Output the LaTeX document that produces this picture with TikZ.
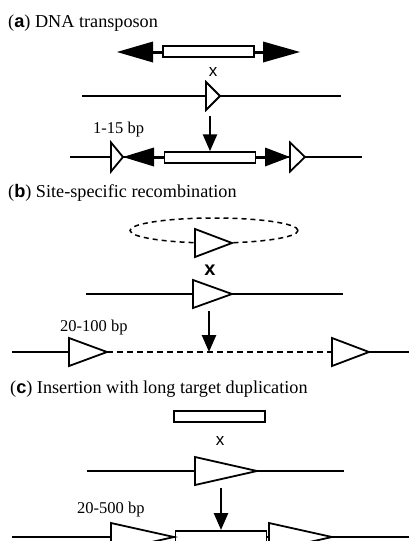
\documentclass[tikz,border=0pt]{standalone}
\usepackage{fontspec}
\setmainfont{Liberation Serif}
\newfontfamily\sansf{Liberation Sans}
\usetikzlibrary{arrows.meta}
\begin{document}
\begin{tikzpicture}[x=1pt,y=-1pt,
  dna/.style={line width=1.6pt},
  dnadash/.style={line width=1.6pt, dash pattern=on 6pt off 4pt},
  site/.style={draw, line width=1.8pt, fill=white, line join=miter},
  tebox/.style={draw, line width=1.5pt, fill=white, inner sep=0pt, minimum width=91pt, minimum height=11pt},
  blackhead/.style={fill=black},
  linker/.style={line width=3pt},
  down/.style={line width=2.6pt, -{Triangle[length=17pt,width=14pt]}},
  title/.style={anchor=base west, font=\fontsize{18.2}{21}\selectfont, inner sep=0pt},
  bp/.style={anchor=base west, font=\fontsize{16.5}{19}\selectfont, inner sep=0pt},
  cross/.style={font=\sansf\fontsize{17}{19}\selectfont, inner sep=0pt},
]
\useasboundingbox (0,0) rectangle (409,541);
\clip (0,0) rectangle (409,541);

% ---------------- (a) ----------------
\node[title] (ta) at (8,27) {(\textbf{\sansf a}) DNA transposon};
% top transposon
\draw[linker] (153,52) -- (164,52);
\draw[linker] (253,52) -- (263,52);
\node[tebox] (a1box) at (208.5,51.5) {};
\fill[blackhead] (117,52) -- (153,41.5) -- (153,62.5) -- cycle;
\fill[blackhead] (300,52) -- (263,41.5) -- (263,62.5) -- cycle;
\node[cross] (ax) at (213,72) {x};
% target
\coordinate (a2L) at (82,96);
\coordinate (a2R) at (341,96);
\draw[dna] (a2L) -- (a2R);
\filldraw[site] (206,82) -- (220,96) -- (206,110) -- cycle;
\coordinate (a2arrow) at (210,116);
% product
\coordinate (a3L) at (70,157);
\coordinate (a3R) at (362,157);
\draw[dna] (a3L) -- (a3R);
\draw[linker] (153,157) -- (165,157);
\draw[linker] (254,157) -- (266,157);
\node[tebox] (a3box) at (210,157.5) {};
\fill[blackhead] (123,157) -- (154,147.5) -- (154,166.5) -- cycle;
\fill[blackhead] (290,157) -- (265,147.5) -- (265,166.5) -- cycle;
\filldraw[site] (111,142.5) -- (123,157) -- (111,171.5) -- cycle;
\filldraw[site] (290,142.5) -- (305,157) -- (290,171.5) -- cycle;
\draw[down] (a2arrow) -- (a3box.north);
\node[bp] (abp) at (93,133) {1-15 bp};

% ---------------- (b) ----------------
\node[title] (tb) at (8,197) {(\textbf{\sansf b}) Site-specific recombination};
\draw[line width=1.5pt, dash pattern=on 5pt off 4pt] (214,230.5) ellipse [x radius=84pt, y radius=12.5pt];
\filldraw[site] (195,229) -- (232,243) -- (195,257) -- cycle;
\node[cross, font=\sansf\bfseries\fontsize{20}{22}\selectfont] (bx) at (210,270) {x};
\coordinate (b2L) at (86,294);
\coordinate (b2R) at (343,294);
\draw[dna] (b2L) -- (b2R);
\filldraw[site] (193,280) -- (232,294) -- (193,308) -- cycle;
\coordinate (b2arrow) at (209,311);
\coordinate (b3L) at (12,352);
\coordinate (b3a) at (69,352);
\coordinate (b3b) at (107,352);
\coordinate (b3mid) at (209,352);
\coordinate (b3c) at (332,352);
\coordinate (b3d) at (369,352);
\coordinate (b3R) at (409,352);
\draw[dna] (b3L) -- (b3a);
\draw[dnadash] (b3b) -- (b3c);
\draw[dna] (b3d) -- (b3R);
\filldraw[site] (69,338) -- (107,352) -- (69,366) -- cycle;
\filldraw[site] (332,338) -- (369,352) -- (332,366) -- cycle;
\draw[down] (b2arrow) -- (b3mid);
\node[bp] (bbp) at (60,331) {20-100 bp};

% ---------------- (c) ----------------
\node[title] (tc) at (10,393) {(\textbf{\sansf c}) Insertion with long target duplication};
\node[tebox] (c1box) at (219.5,416.5) {};
\node[cross] (cx) at (220,441) {x};
\coordinate (c2L) at (87,471);
\coordinate (c2R) at (344,471);
\draw[dna] (c2L) -- (c2R);
\filldraw[site] (195,457) -- (257,471) -- (195,485) -- cycle;
\coordinate (c2arrow) at (221,488);
\coordinate (c3L) at (12,537);
\coordinate (c3R) at (409,537);
\draw[dna] (c3L) -- (c3R);
\node[tebox, anchor=north] (c3box) at (221,530) {};
\filldraw[site] (111,523) -- (174,537) -- (111,551) -- cycle;
\filldraw[site] (269,523) -- (332,537) -- (269,551) -- cycle;
\draw[down] (c2arrow) -- (c3box.north);
\node[bp] (cbp) at (77,513) {20-500 bp};
\end{tikzpicture}
\end{document}
